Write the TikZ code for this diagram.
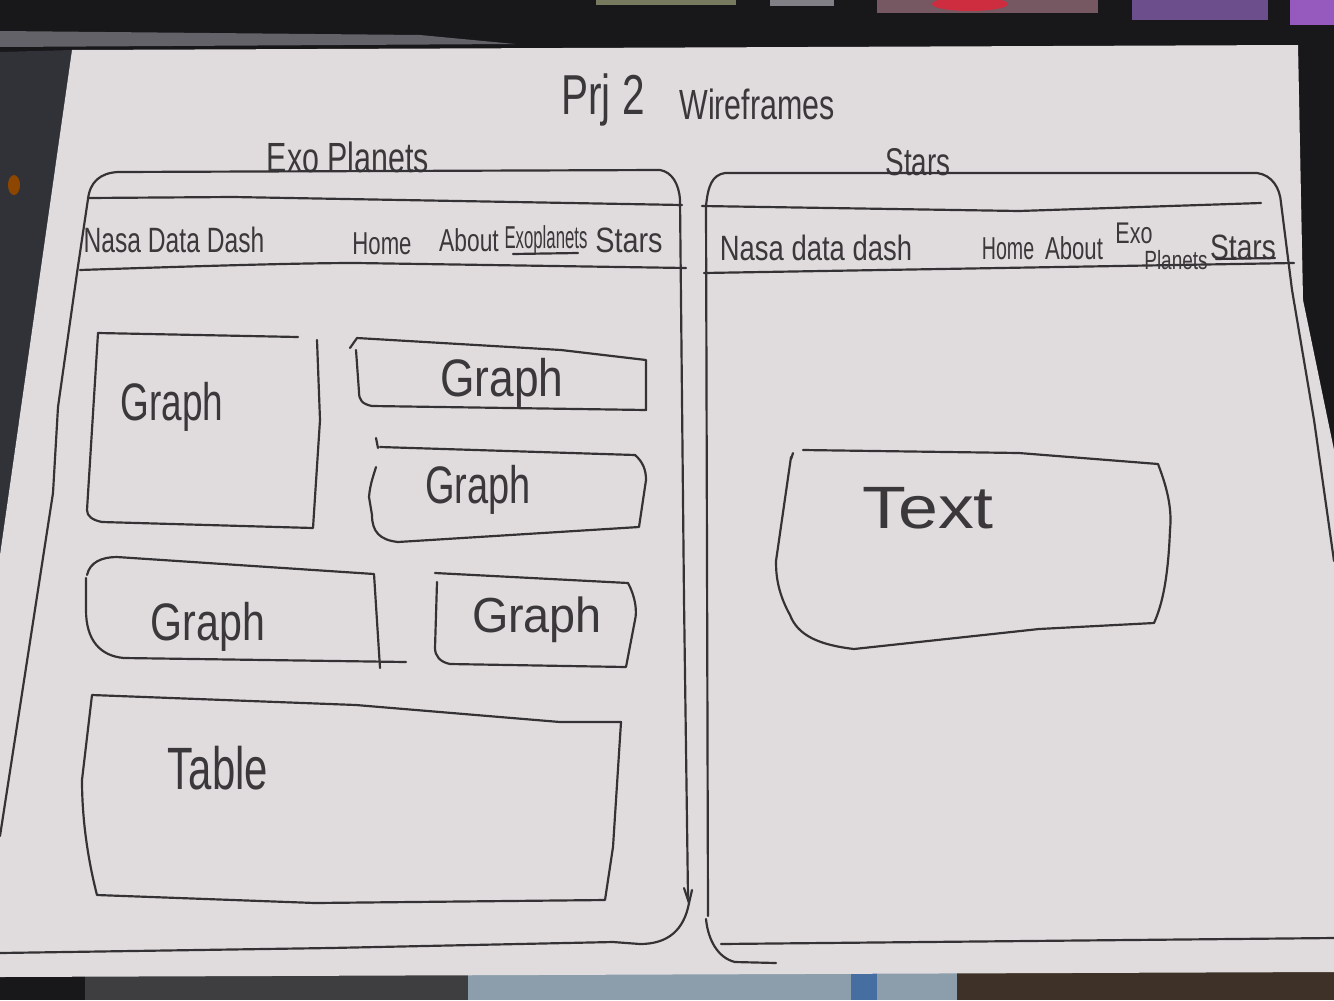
\documentclass[tikz,border=0pt]{standalone}
\usepackage{fontspec}
\usepackage{graphicx}
\setmainfont{Liberation Sans}
\definecolor{pencil}{RGB}{52,50,52}
\definecolor{ink}{RGB}{58,56,58}
\definecolor{paper}{RGB}{224,219,221}
\definecolor{desk}{RGB}{24,23,26}
\definecolor{sidegray}{RGB}{48,50,56}
\definecolor{bandgray}{RGB}{98,98,104}
\definecolor{keygreen}{RGB}{120,122,96}
\definecolor{keygray}{RGB}{128,128,134}
\definecolor{keypink}{RGB}{118,88,98}
\definecolor{keyred}{RGB}{205,45,62}
\definecolor{keypurple}{RGB}{108,78,140}
\definecolor{keyviolet}{RGB}{150,90,190}
\definecolor{floordark}{RGB}{62,62,64}
\definecolor{notebook}{RGB}{140,158,172}
\definecolor{notebookblue}{RGB}{70,110,160}
\definecolor{woodbrown}{RGB}{62,50,40}
% handwritten-looking label: size, horizontal squeeze, text
\newcommand{\handw}[3]{\scalebox{#2}[1]{\fontsize{#1}{#1}\selectfont #3}}
\begin{document}
\begin{tikzpicture}[x=0.01cm,y=-0.01cm,
  pen/.style={draw=pencil,line width=0.62pt,line cap=round,line join=round},
  lbl/.style={text=ink,inner sep=0pt,anchor=center}]
\useasboundingbox (0,0) rectangle (1334,1000);
% desk and keyboard behind the sheet
\fill[desk] (0,0) rectangle (1334,1000);
\fill[keygreen] (596,0) rectangle (736,5);
\fill[keygray] (770,0) rectangle (834,6);
\fill[keypink] (877,0) rectangle (1098,13);
\fill[keyred] (970,4) ellipse (38 and 7);
\fill[keypurple] (1132,0) rectangle (1268,20);
\fill[keyviolet] (1290,0) rectangle (1334,25);
\fill[bandgray] (0,31) -- (420,35) -- (515,44) -- (0,47) -- cycle;
\fill[sidegray] (0,52) -- (72,50) -- (0,555) -- cycle;
\fill[orange!55!black] (14,185) ellipse (6 and 10);
\fill[floordark] (85,975) rectangle (468,1000);
\fill[notebook] (468,973) rectangle (957,1000);
\fill[notebookblue] (851,973) rectangle (877,1000);
\fill[woodbrown] (957,972) rectangle (1334,1000);
% the sheet of paper
\fill[paper] (72,50) -- (1298,45) -- (1303,300) -- (1334,450) -- (1334,972) -- (0,977) -- (0,555) -- cycle;

% headings
\node[lbl] (prj) at (603,100) {\handw{16}{0.72}{Prj 2}};
\node[lbl] (wire) at (757,104) {\handw{12}{0.72}{Wireframes}};
\node[lbl] (exotitle) at (348,157) {\handw{12}{0.72}{Exo Planets}};
\node[lbl] (starstitle) at (918,162) {\handw{11}{0.72}{Stars}};

% ---------- left page: Exo Planets ----------
\draw[pen] (0,836) -- (53,493) -- (58,407) -- (77,273) -- (88,199)
  .. controls (90,182) and (100,173) .. (118,172) -- (660,170)
  .. controls (672,172) and (679,184) .. (680,200)
  -- (684,600) -- (688,897);
\draw[pen] (684,888) -- (689,903) -- (692,890);
\draw[pen] (689,903) .. controls (684,930) and (668,944) .. (640,944) -- (613,942)
  -- (330,948) -- (0,953);
\draw[pen] (88,198) -- (233,197) -- (682,205);
\draw[pen] (80,270) .. controls (200,266) and (300,263) .. (356,263) -- (686,268);
% navigation bar
\node[lbl] (navl) at (174,240) {\handw{10}{0.70}{Nasa Data Dash}};
\node[lbl] (homel) at (382,244) {\handw{9}{0.70}{Home}};
\node[lbl] (aboutl) at (469,240) {\handw{9}{0.72}{About}};
\node[lbl] (exol) at (546,240) {\handw{9}{0.53}{Exoplanets}};
\node[lbl] (starsl) at (629,240) {\handw{10}{0.82}{Stars}};
\draw[pen] (513,254) -- (578,253);
% graph panels
\draw[pen] (98,333) -- (298,337);
\draw[pen] (317,340) -- (320,420) -- (313,528) -- (102,522)
  .. controls (92,520) and (87,516) .. (87,510) -- (98,333);
\node[lbl] (g1) at (172,407) {\handw{15}{0.70}{Graph}};
\draw[pen] (350,348) -- (357,338) -- (561,350) -- (646,360) -- (646,410) -- (372,406)
  .. controls (362,404) and (359,400) .. (359,392) -- (356,350);
\node[lbl] (g2) at (502,383) {\handw{15}{0.84}{Graph}};
\draw[pen] (376,438) -- (378,448);
\draw[pen] (380,447) -- (635,455) .. controls (643,462) and (646,470) .. (646,480)
  -- (639,527) -- (398,542)
  .. controls (380,540) and (372,532) .. (372,515) -- (369,497) .. controls (370,484) and (374,474) .. (376,467);
\node[lbl] (g3) at (478,490) {\handw{15}{0.72}{Graph}};
\draw[pen] (87,575) .. controls (90,562) and (102,557) .. (117,557) -- (374,574) -- (380,668);
\draw[pen] (86,578) -- (86,610) .. controls (86,640) and (100,656) .. (124,658) -- (406,662);
\node[lbl] (g4) at (208,627) {\handw{15}{0.78}{Graph}};
\draw[pen] (435,573) -- (628,583) .. controls (636,598) and (637,612) .. (635,620) -- (626,667) -- (450,664)
  .. controls (440,662) and (435,656) .. (435,648) -- (437,582);
\node[lbl] (g5) at (537,620) {\handw{14}{0.95}{Graph}};
% table panel
\draw[pen] (92,695) -- (356,705) -- (560,722) -- (621,722) -- (613,847) -- (605,900)
  -- (315,903) -- (97,895) .. controls (88,860) and (82,820) .. (82,780) -- (92,695);
\node[lbl] (tbl) at (218,768) {\handw{17}{0.70}{Table}};

% ---------- right page: Stars ----------
\draw[pen] (708,916) -- (706,206) .. controls (708,186) and (712,175) .. (725,173)
  -- (1257,173) .. controls (1272,175) and (1280,188) .. (1281,203)
  -- (1292,290) -- (1314,420) -- (1334,561);
\draw[pen] (706,919) .. controls (708,940) and (718,958) .. (735,962) -- (776,963);
\draw[pen] (721,944) -- (1334,938);
\draw[pen] (702,206) -- (1019,211) -- (1261,203);
\draw[pen] (704,273) -- (1000,268) -- (1294,263);
% navigation bar
\node[lbl] (navr) at (816,248) {\handw{10}{0.78}{Nasa data dash}};
\node[lbl] (homer) at (1008,249) {\handw{9}{0.62}{Home}};
\node[lbl] (aboutr) at (1074,248) {\handw{9}{0.70}{About}};
\node[lbl] (exor) at (1134,233) {\handw{8.5}{0.72}{Exo}};
\node[lbl] (planr) at (1176,260) {\handw{7.5}{0.72}{Planets}};
\node[lbl] (starsr) at (1243,247) {\handw{10}{0.80}{Stars}};
\draw[pen] (1216,259) -- (1275,258);
% text panel
\draw[pen] (793,453) -- (791,459);
\draw[pen] (803,450) -- (1019,453) -- (1158,464)
  .. controls (1168,490) and (1172,510) .. (1170,530) .. controls (1168,580) and (1162,605) .. (1154,623)
  -- (1039,629) -- (854,649)
  .. controls (820,645) and (798,636) .. (790,615) .. controls (776,590) and (776,570) .. (776,561)
  -- (791,457);
\node[lbl] (txt) at (928,508) {\handw{17}{1.2}{Text}};
\end{tikzpicture}
\end{document}
